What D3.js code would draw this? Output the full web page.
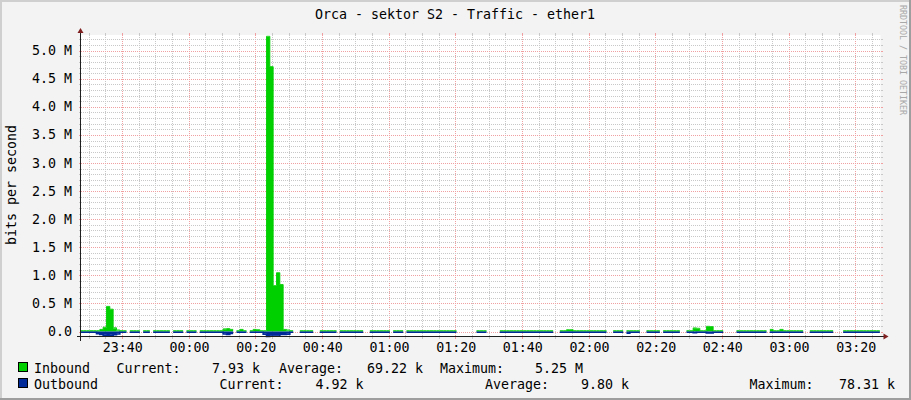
<!DOCTYPE html>
<html>
<head>
<meta charset="utf-8">
<script src="https://cdn.jsdelivr.net/npm/d3@7/dist/d3.min.js"></script>
<style>
  body { margin: 0; background: #F3F3F3; }
  svg { display: block; }
  text { font-family: "DejaVu Sans Mono", monospace; white-space: pre; }
</style>
</head>
<body>
<svg id="chart" width="911" height="400"></svg>
<script>
// chart texts
const chartTitle = "Orca - sektor S2 - Traffic - ether1";
const yTitle = "bits per second";
const watermark = "RRDTOOL / TOBI OETIKER";

// one sample per minute, first one starts 23:27:24, values in kbit/s, null = unknown
const sampleStart = new Date(2000, 0, 1, 23, 27, 24);
const inbound = [
  8, 8, 8, 8, 8, 8, 30, 70, 440, 390, 60, 20, 8, 8, null, 8, 8, 8, null, 8,
  8, null, 8, 8, 8, 8, 8, null, 8, 8, 8, null, 8, 8, 8, null, 8, 8, 8, 8,
  8, 8, 8, 40, 45, 30, null, 8, 30, 8, null, 8, 30, 25, 8, 8, 5250, 4710, 810, 1040,
  830, 30, 20, 8, null, null, 8, 8, 8, 8, null, null, 8, 8, 8, 8, 8, null, 8, 8,
  8, 8, 8, 8, 8, null, null, 8, 8, 8, 8, 8, 8, null, 8, 8, 8, null, 8, 8,
  8, 8, 8, 8, 8, 8, 8, 8, 8, 8, 8, 8, 8, null, null, null, null, null, null, 8,
  8, 8, null, null, null, null, 8, 8, 8, 8, 8, 8, 8, 8, 8, 8, 8, 8, 8, 8,
  8, 8, null, null, 8, 8, 25, 25, 8, 8, 8, 8, 8, 8, 8, 8, 8, 8, null, null,
  8, 8, 8, null, 8, 8, 8, 8, null, null, 8, 8, 8, 8, null, 8, 8, 8, 8, 8,
  null, null, 8, 8, 57, 50, 8, 8, 85, 80, 8, 8, 8, null, null, null, null, 8, 8, 8,
  8, 8, 8, 8, 8, 8, null, 30, 8, 8, 30, 8, 8, 8, 8, 8, 8, null, null, 8,
  8, 8, 8, 8, 8, 8, null, null, null, 8, 8, 8, 8, 8, 8, 8, 8, 8, 8, 7.93
];
const outbound = [
  5, 5, 5, 5, 5, 30, 45, 55, 62, 60, 50, 35, 5, 5, null, 5, 5, 5, null, 5,
  5, null, 5, 5, 5, 5, 5, null, 5, 5, 5, null, 5, 5, 5, null, 5, 5, 5, 5,
  5, 5, 5, 35, 45, 25, null, 5, 5, 5, null, 5, 5, 5, 5, 40, 78.31, 75, 72, 70,
  45, 45, 40, 5, null, null, 5, 5, 5, 5, null, null, 5, 5, 5, 5, 5, null, 5, 5,
  5, 5, 5, 5, 5, null, null, 5, 5, 5, 5, 5, 5, null, 5, 5, 5, null, 5, 5,
  5, 5, 5, 5, 5, 5, 5, 5, 5, 5, 5, 5, 5, null, null, null, null, null, null, 5,
  5, 5, null, null, null, null, 5, 5, 5, 5, 5, 5, 5, 5, 5, 5, 5, 5, 5, 5,
  5, 5, null, null, 5, 5, 5, 5, 5, 5, 5, 5, 5, 5, 5, 5, 5, 5, null, null,
  5, 5, 5, null, 20, 5, 5, 5, null, null, 5, 5, 5, 5, null, 5, 5, 5, 5, 5,
  null, null, 5, 5, 12, 5, 5, 5, 15, 15, 5, 5, 5, null, null, null, null, 5, 5, 5,
  5, 5, 5, 5, 5, 5, null, 5, 5, 5, 5, 5, 5, 5, 5, 5, 5, null, null, 5,
  5, 5, 5, 5, 5, 5, null, null, null, 5, 5, 5, 5, 5, 5, 5, 5, 5, 5, 4.92
];

// y axis labels (values in bit/s)
const yTickValues = [0, 0.5e6, 1.0e6, 1.5e6, 2.0e6, 2.5e6, 3.0e6, 3.5e6, 4.0e6, 4.5e6, 5.0e6];
const yTickLabels = ["0.0", "0.5 M", "1.0 M", "1.5 M", "2.0 M", "2.5 M", "3.0 M", "3.5 M", "4.0 M", "4.5 M", "5.0 M"];

// legend
const seriesNames = ["Inbound", "Outbound"];
const seriesColors = ["#00CF00", "#002A97"];
const currentText = ["7.93 k", "4.92 k"];
const averageText = ["69.22 k", "9.80 k"];
const maximumText = ["5.25 M", "78.31 k"];

const W = 911, H = 400;
const canvas = {left: 80.5, right: 880.5, top: 35, bottom: 336.5};

let svg = d3.select("#chart");

// background + 3d frame
svg.append("rect").attr("width", W).attr("height", H).attr("fill", "#F3F3F3");
svg.append("path").attr("d", `M0,0H${W}V2H2V${H}H0Z`).attr("fill", "#CFCFCF");
svg.append("path").attr("d", `M${W},${H}H0V${H - 2}H${W - 2}V0H${W}Z`).attr("fill", "#9E9E9E");

svg.append("rect")
  .attr("x", canvas.left).attr("y", canvas.top)
  .attr("width", canvas.right - canvas.left).attr("height", canvas.bottom - canvas.top)
  .attr("fill", "#FFFFFF");

let x = d3.scaleTime()
  .domain([new Date(2000, 0, 1, 23, 27, 36), new Date(2000, 0, 2, 3, 27, 36)])
  .range([canvas.left, canvas.right]);

let y = d3.scaleLinear()
  .domain([-0.089e6, 5.28e6])
  .range([canvas.bottom, canvas.top]);

const gridColor = "#C8C8C8", mgridColor = "#F0A0A0";

// vertical grid
let minorX = d3.timeMinute.every(5).range(x.domain()[0], x.domain()[1]);
let majorX = d3.timeMinute.every(20).range(x.domain()[0], x.domain()[1]);
let grid = svg.append("g").attr("shape-rendering", "crispEdges");

minorX.forEach(function (t) {
  let px = Math.round(x(t)) + 0.5;
  let isMajor = t.getMinutes() % 20 === 0;
  let col = isMajor ? mgridColor : gridColor;
  grid.append("line").attr("x1", px).attr("x2", px)
    .attr("y1", canvas.top).attr("y2", canvas.bottom)
    .attr("stroke", col).attr("stroke-dasharray", "1,1");
  grid.append("line").attr("x1", px).attr("x2", px)
    .attr("y1", canvas.bottom).attr("y2", canvas.bottom + 2).attr("stroke", col);
  grid.append("line").attr("x1", px).attr("x2", px)
    .attr("y1", canvas.top - 2).attr("y2", canvas.top).attr("stroke", col);
});

// horizontal grid
let minorY = d3.range(0, 5.25e6, 0.1e6);
minorY.forEach(function (v, i) {
  let py = Math.round(y(v)) + 0.5;
  let col = i % 5 === 0 ? mgridColor : gridColor;
  grid.append("line").attr("x1", canvas.left).attr("x2", canvas.right)
    .attr("y1", py).attr("y2", py)
    .attr("stroke", col).attr("stroke-dasharray", "1,1");
  grid.append("line").attr("x1", canvas.left - 2).attr("x2", canvas.left)
    .attr("y1", py).attr("y2", py).attr("stroke", col);
  grid.append("line").attr("x1", canvas.right).attr("x2", canvas.right + 2)
    .attr("y1", py).attr("y2", py).attr("stroke", col);
});

// step points: each sample drawn from its start to its end
function stepPoints(values, sign) {
  let pts = [];
  values.forEach(function (v, i) {
    let t0 = d3.timeMinute.offset(sampleStart, i);
    let t1 = d3.timeMinute.offset(sampleStart, i + 1);
    if (v === null) {
      pts.push(null);
    } else {
      pts.push({t: t0, v: sign * v * 1000});
      pts.push({t: t1, v: sign * v * 1000});
    }
  });
  return pts;
}

let inPts = stepPoints(inbound, 1);
let outPts = stepPoints(outbound, -1);

let clipX = function (t) { return Math.max(canvas.left, Math.min(canvas.right, x(t))); };

let area = d3.area()
  .defined(d => d !== null)
  .x(d => clipX(d.t))
  .y0(y(0))
  .y1(d => y(d.v));

svg.append("path").datum(inPts).attr("d", area).attr("fill", seriesColors[0]);
svg.append("path").datum(outPts).attr("d", area).attr("fill", seriesColors[1]);

// thin lines so the small baseline values stay visible
svg.append("path").datum(outPts)
  .attr("d", d3.line().defined(d => d !== null).x(d => clipX(d.t)).y(d => Math.max(y(d.v), y(0)) + 0.5))
  .attr("fill", "none").attr("stroke", seriesColors[1]).attr("stroke-width", 1.6);
svg.append("path").datum(inPts)
  .attr("d", d3.line().defined(d => d !== null).x(d => clipX(d.t)).y(d => Math.min(y(d.v), y(0)) - 0.4))
  .attr("fill", "none").attr("stroke", seriesColors[0]).attr("stroke-width", 0.9);

// axes
let axisCol = "#1F1F1F", arrowCol = "#7F1F1F";
svg.append("line").attr("x1", canvas.left - 4).attr("x2", canvas.right + 3)
  .attr("y1", canvas.bottom).attr("y2", canvas.bottom)
  .attr("stroke", axisCol).attr("shape-rendering", "crispEdges");
svg.append("line").attr("x1", canvas.left).attr("x2", canvas.left)
  .attr("y1", canvas.bottom + 4).attr("y2", canvas.top - 3)
  .attr("stroke", axisCol).attr("shape-rendering", "crispEdges");
svg.append("path")
  .attr("d", `M${canvas.right + 3},${canvas.bottom - 3}L${canvas.right + 8},${canvas.bottom}L${canvas.right + 3},${canvas.bottom + 3}Z`)
  .attr("fill", arrowCol);
svg.append("path")
  .attr("d", `M${canvas.left - 3},${canvas.top - 2}L${canvas.left},${canvas.top - 7}L${canvas.left + 3},${canvas.top - 2}Z`)
  .attr("fill", arrowCol);

// y labels
svg.append("g").selectAll("text")
  .data(yTickValues)
  .enter()
  .append("text")
    .attr("x", 72)
    .attr("y", d => y(d) + 4.5)
    .attr("text-anchor", "end")
    .style("font-size", "13.3px")
    .text((d, i) => yTickLabels[i]);

// x labels
let fmt = d3.timeFormat("%H:%M");
svg.append("g").selectAll("text")
  .data(majorX)
  .enter()
  .append("text")
    .attr("x", d => x(d) + 1)
    .attr("y", 352)
    .attr("text-anchor", "middle")
    .style("font-size", "13.3px")
    .text(d => fmt(d));

// titles
svg.append("text")
  .attr("x", 455).attr("y", 19)
  .attr("text-anchor", "middle")
  .style("font-size", "13.3px")
  .text(chartTitle);

svg.append("text")
  .attr("transform", "translate(16, 185) rotate(-90)")
  .attr("text-anchor", "middle")
  .style("font-size", "13.3px")
  .text(yTitle);

svg.append("text")
  .attr("transform", "translate(900, 5) rotate(90)")
  .attr("text-anchor", "start")
  .style("font-size", "8.3px")
  .attr("fill", "#A8A8A8")
  .text(watermark);

// legend: label and value placed separately, like rrdtool's gprint items
const legendRows = [
  {y: 372.5, cur: [116.5, 212], avg: [279, 367], max: [440, 535]},
  {y: 388.5, cur: [219.5, 315.5], avg: [485, 581], max: [749.5, 839]}
];
let legend = svg.append("g").style("font-size", "13.3px");
legendRows.forEach(function (r, i) {
  legend.append("rect")
    .attr("x", 18.5).attr("y", r.y - 10).attr("width", 9).attr("height", 9)
    .attr("fill", seriesColors[i]).attr("stroke", "#000").attr("shape-rendering", "crispEdges");
  legend.append("text").attr("x", 34).attr("y", r.y).text(seriesNames[i]);
  legend.append("text").attr("x", r.cur[0]).attr("y", r.y).text("Current:");
  legend.append("text").attr("x", r.cur[1]).attr("y", r.y).text(currentText[i]);
  legend.append("text").attr("x", r.avg[0]).attr("y", r.y).text("Average:");
  legend.append("text").attr("x", r.avg[1]).attr("y", r.y).text(averageText[i]);
  legend.append("text").attr("x", r.max[0]).attr("y", r.y).text("Maximum:");
  legend.append("text").attr("x", r.max[1]).attr("y", r.y).text(maximumText[i]);
});
</script>
</body>
</html>
